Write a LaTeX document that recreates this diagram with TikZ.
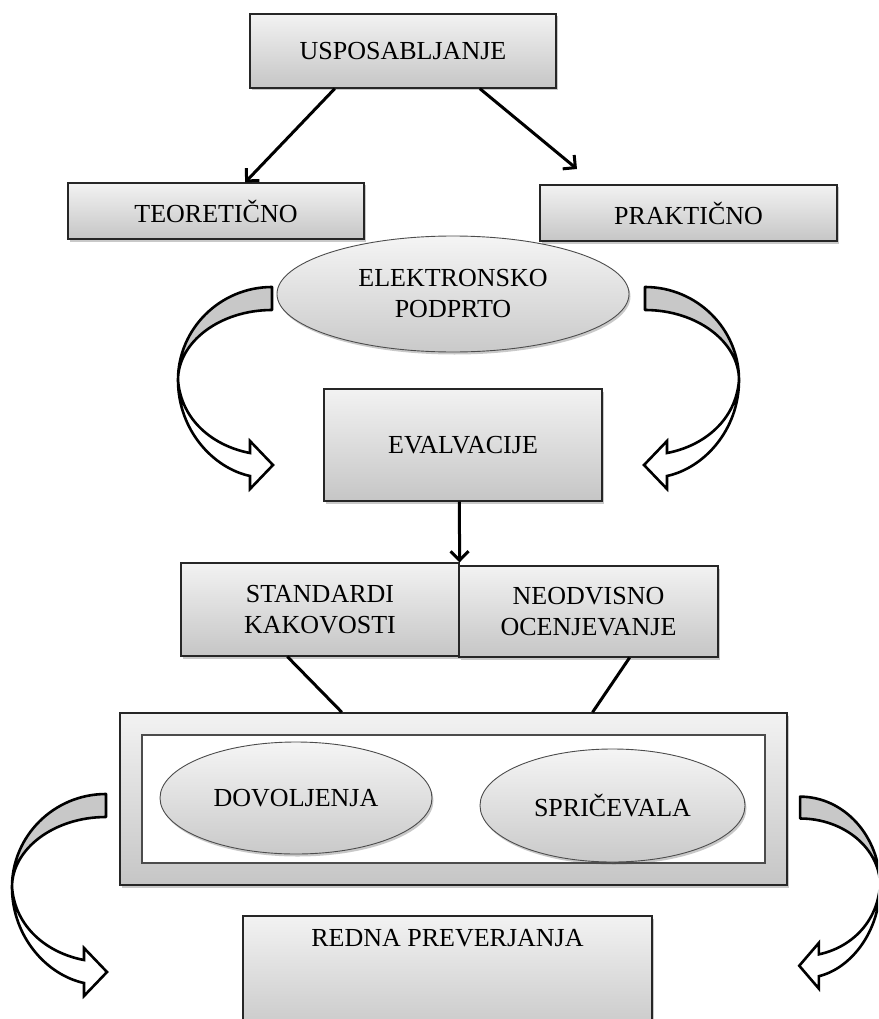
\documentclass[tikz,border=0pt]{standalone}
\usepackage{fontspec}
\setmainfont{Liberation Serif}
\usetikzlibrary{arrows.meta,shapes.geometric,shadows,calc}

\begin{document}
\begin{tikzpicture}[x=1pt,y=-1pt,
  font=\fontsize{26}{31}\selectfont,
  softshadow/.style={drop shadow={shadow xshift=1.5pt,shadow yshift=-2.5pt,opacity=0.3,fill=black!70}},
  panel/.style={rectangle,draw=black!85,line width=1.2pt,top color=gray!10,bottom color=gray!45,
    inner sep=0pt,align=center,softshadow},
  oval/.style={ellipse,draw=black!70,line width=0.9pt,top color=gray!8,bottom color=gray!42,
    inner sep=0pt,align=center,softshadow},
  link/.style={line width=3pt,-{Straight Barb[length=9pt,width=18pt]}},
  plainlink/.style={line width=3pt},
  % ribbon-style bent arrow: grey back part above the apex, white front part with the head
  pics/bentarrow/.style={code={
    \filldraw[fill=gray!43,draw=black,line width=2.6pt,line join=round]
      (94,-93) .. controls (42,-93) and (0,-51) .. (0,0)
      .. controls (0,-38) and (42,-70) .. (94,-70) -- cycle;
    \filldraw[fill=white,draw=black,line width=2.6pt,line join=miter]
      (0,0) .. controls (0,50) and (35,88) .. (72,96)
      -- (72,109) -- (95,85) -- (72,61) -- (72,73)
      .. controls (35,66) and (3,40) .. (0,0) -- cycle;
  }}
]
\useasboundingbox (0,0) rectangle (878,1019);
\begin{scope}
\clip (0,0) rectangle (878,1019);

% top level
\node[panel,minimum width=306pt,minimum height=74pt] (usp) at (403,51) {USPOSABLJANJE};
\node[panel,minimum width=296pt,minimum height=56pt] (teo) at (216,211) {TEORETIČNO};
\node[panel,minimum width=297pt,minimum height=56pt] (pra) at (688.5,213) {PRAKTIČNO};
\node[oval,minimum width=352pt,minimum height=116pt] (elek) at (453,294) {ELEKTRONSKO\\PODPRTO};

% evaluation
\node[panel,minimum width=278pt,minimum height=112pt] (eval) at (463,445) {EVALVACIJE};
\node[panel,minimum width=278pt,minimum height=93pt] (std) at (320,609.5) {STANDARDI\\KAKOVOSTI};
\node[panel,minimum width=259pt,minimum height=91pt] (neo) at (588.5,611.5) {NEODVISNO\\OCENJEVANJE};

% framed group of permits and certificates
\node[panel,line width=1.4pt,minimum width=667pt,minimum height=172pt] (frame) at (453.5,799) {};
\node[rectangle,draw=black!70,line width=2.5pt,fill=white,minimum width=623pt,minimum height=128pt]
  (inner) at (453.5,799) {};
\node[oval,minimum width=272pt,minimum height=112pt] (dov) at (296,798) {DOVOLJENJA};
\node[oval,minimum width=265pt,minimum height=113pt] (spr) at (612.5,805.5) {SPRIČEVALA};

% periodic checks
\node[panel,minimum width=409pt,minimum height=124pt] (redna) at (447.5,978) {};
\node[inner sep=0pt] (rednatext) at (447.5,938) {REDNA PREVERJANJA};

% connectors
\coordinate (praend) at (577,169);
\draw[link] ($(usp.south west)!0.278!(usp.south east)$) -- ($(teo.north west)!0.598!(teo.north east)$);
\draw[link] ($(usp.south west)!0.75!(usp.south east)$) -- (praend);
\draw[link] ($(eval.south west)!0.487!(eval.south east)$) -- (std.north east);
\draw[plainlink] ($(std.south west)!0.383!(std.south east)$) -- ($(frame.north west)!0.333!(frame.north east)$);
\draw[plainlink] ($(neo.south west)!0.658!(neo.south east)$) -- ($(frame.north west)!0.708!(frame.north east)$);

% bent ribbon arrows
\pic at (178,380) {bentarrow};
\pic[xscale=-1] at (739,380) {bentarrow};
\pic at (12,887) {bentarrow};
\pic[xscale=-0.85,yscale=0.95] at (880,885) {bentarrow};
\end{scope}
\end{tikzpicture}
\end{document}
